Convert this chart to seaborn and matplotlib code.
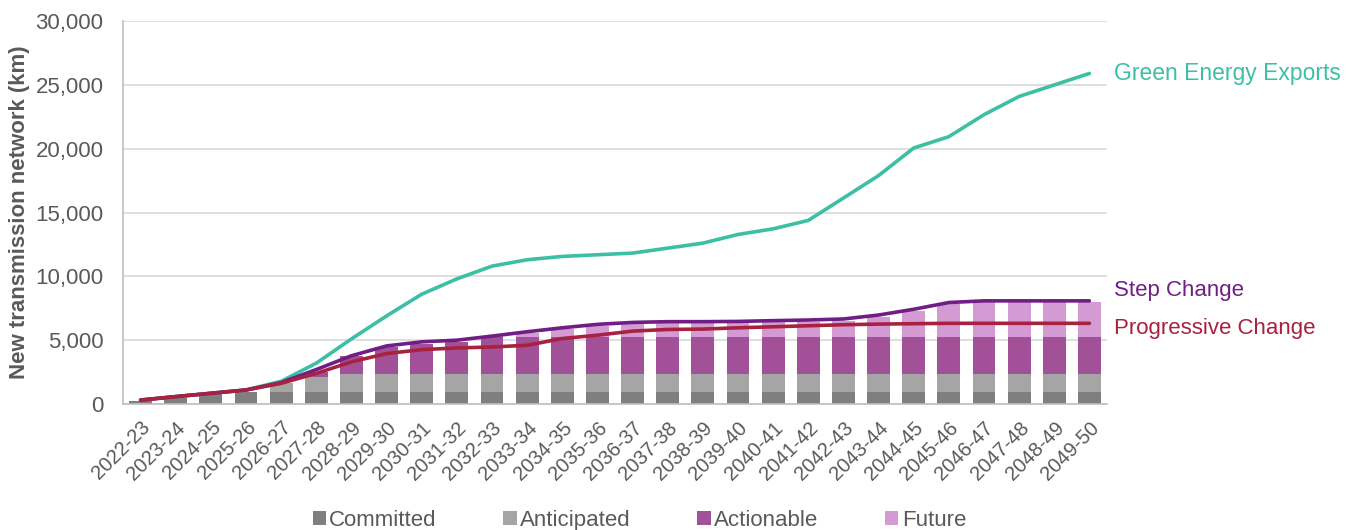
import matplotlib
matplotlib.use('Agg')
import matplotlib.pyplot as plt
from matplotlib.patches import Patch
import numpy as np
import pandas as pd
import seaborn as sns

YEARS = [f'{y}-{(y + 1) % 100:02d}' for y in range(2022, 2050)]

COMMITTED = [260, 440, 780, 910] + [910] * 24
ANTICIPATED = [0, 0, 0, 0, 700, 1190] + [1450] * 22
ACTIONABLE = [0, 0, 0, 0, 0, 380, 1420, 2070, 2340, 2470] + [2900] * 18
FUTURE = [0] * 10 + [100, 290, 610, 840, 1000, 1050, 1090, 1120, 1160, 1200,
                     1260, 1520, 2040, 2560, 2720, 2720, 2720, 2720]

GREEN_EXPORTS = [310, 580, 840, 1100, 1780, 3200, 5100, 6900, 8600, 9800,
                 10800, 11300, 11560, 11690, 11820, 12210, 12600, 13280, 13720, 14380,
                 16130, 17890, 20050, 20940, 22660, 24090, 24990, 25890]
STEP_CHANGE = [310, 580, 840, 1100, 1680, 2700, 3780, 4550, 4870, 5000,
               5320, 5660, 5970, 6240, 6390, 6450, 6450, 6470, 6530, 6580,
               6660, 6970, 7420, 7950, 8080, 8080, 8080, 8080]
PROGRESSIVE = [310, 580, 840, 1100, 1620, 2400, 3300, 3950, 4260, 4390,
               4470, 4600, 5130, 5390, 5710, 5840, 5870, 5970, 6050, 6130,
               6210, 6260, 6290, 6320, 6320, 6320, 6320, 6320]

STACK_NAMES = ['Committed', 'Anticipated', 'Actionable', 'Future']
STACK_COLOURS = ['#7f7f7f', '#a5a5a5', '#a25098', '#d39ad3']

LINE_NAMES = ['Green Energy Exports', 'Step Change', 'Progressive Change']
LINE_COLOURS = ['#3dbfa5', '#701e84', '#a8213f']

FS = 16


def main():
    sns.set_theme(style='white')
    plt.rcParams['font.family'] = ['Liberation Sans', 'DejaVu Sans']

    fig = plt.figure(figsize=(13.46, 5.30), dpi=100)
    ax = fig.add_axes([0.0914, 0.2377, 0.7310, 0.7227])

    df = pd.DataFrame({
        'Year': YEARS,
        'Committed': COMMITTED,
        'Anticipated': ANTICIPATED,
        'Actionable': ACTIONABLE,
        'Future': FUTURE,
    })
    cum = df[STACK_NAMES].cumsum(axis=1)

    # draw tallest layer first so the lower layers sit on top of it
    for name, colour in reversed(list(zip(STACK_NAMES, STACK_COLOURS))):
        sns.barplot(x=df['Year'], y=cum[name], ax=ax, color=colour,
                    width=0.65, saturation=1, linewidth=0, zorder=2)

    xs = np.arange(len(YEARS))
    for vals, colour in zip([GREEN_EXPORTS, STEP_CHANGE, PROGRESSIVE], LINE_COLOURS):
        sns.lineplot(x=xs, y=vals, ax=ax, color=colour, linewidth=2.6,
                     sort=False, zorder=3)

    label_y = [GREEN_EXPORTS[-1], 8900, 5900]
    label_fs = [16.5, FS, FS]
    for name, colour, yv, fs in zip(LINE_NAMES, LINE_COLOURS, label_y, label_fs):
        ax.text(len(YEARS) - 0.3, yv, name, color=colour, fontsize=fs,
                va='center', ha='left', clip_on=False)

    ax.set_xlim(-0.5, len(YEARS) - 0.5)
    ax.set_ylim(0, 30000)
    ax.set_yticks(range(0, 30001, 5000))
    ax.yaxis.set_major_formatter(matplotlib.ticker.FuncFormatter(lambda v, p: f'{int(v):,}'))
    ax.grid(axis='y', color='#d9d9d9', linewidth=1.2, zorder=0)
    ax.set_axisbelow(True)

    for side in ['top', 'right']:
        ax.spines[side].set_visible(False)
    ax.spines['left'].set_color('#bfbfbf')
    ax.spines['bottom'].set_color('#bfbfbf')
    ax.spines['left'].set_linewidth(1.2)
    ax.spines['bottom'].set_linewidth(1.2)

    ax.tick_params(axis='both', length=0, colors='#595959', labelsize=FS)
    ax.tick_params(axis='y', pad=14)
    ax.tick_params(axis='x', pad=10, labelsize=14.5)
    plt.setp(ax.get_xticklabels(), rotation=45, ha='right', rotation_mode='anchor')
    ax.set_xlabel('')
    ax.set_ylabel('New transmission network (km)', fontsize=FS,
                  fontweight='bold', color='#595959', labelpad=4)

    handles = [Patch(facecolor=c, edgecolor='none') for c in STACK_COLOURS]
    fig.legend(handles, STACK_NAMES, loc='lower center', ncol=4,
               bbox_to_anchor=(0.475, -0.04), frameon=False, fontsize=FS,
               handlelength=0.6, handleheight=0.6, handletextpad=0.15,
               columnspacing=3.0, labelcolor='#595959')

    fig.savefig('out.png', dpi=100)


if __name__ == '__main__':
    main()
